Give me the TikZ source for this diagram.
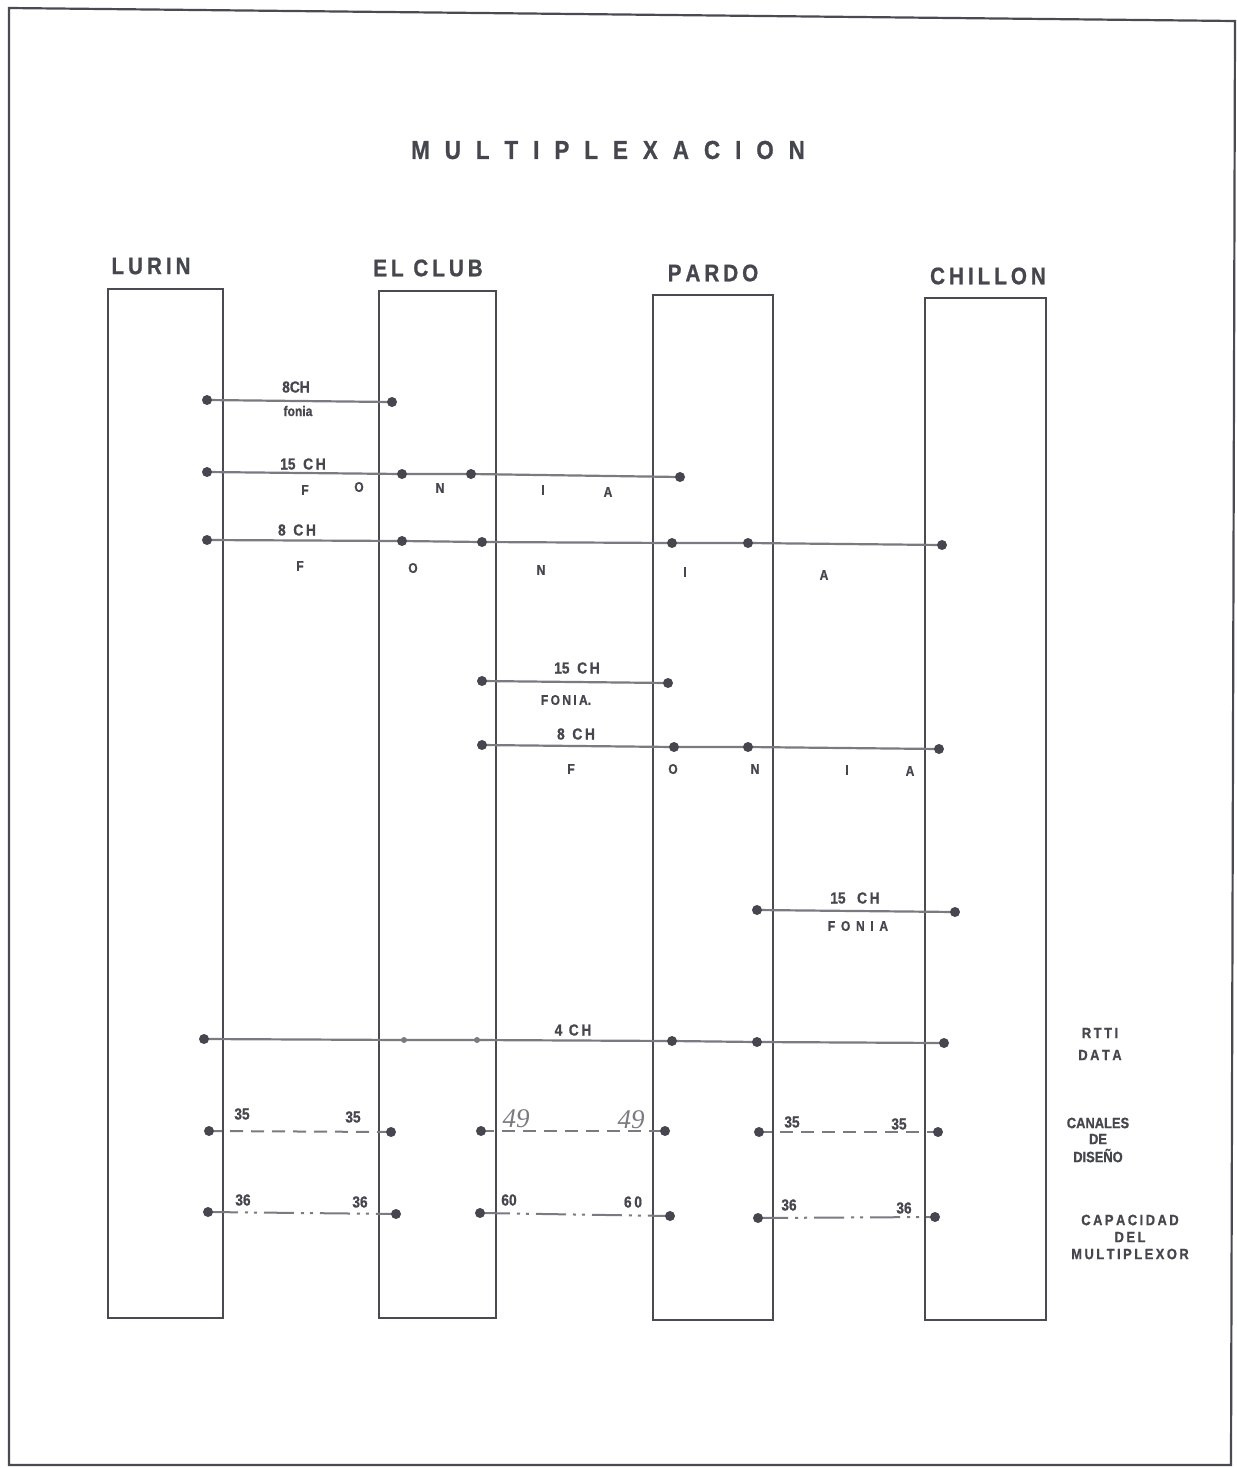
\documentclass[tikz,border=0pt]{standalone}
\usepackage{fontspec}
\setmainfont{Liberation Sans}[FakeStretch=0.86,BoldFeatures={FakeBold=0.8}]
\newfontfamily\handfont{Liberation Serif}
\definecolor{ink}{HTML}{46464E}
\definecolor{linec}{HTML}{7A7A80}
\definecolor{boxc}{HTML}{4A4A52}
\begin{document}
\begin{tikzpicture}[x=1pt,y=-1pt,
  frame/.style={draw=boxc,line width=2.2pt},
  col/.style={draw=boxc,line width=2.8pt,rectangle,inner sep=0pt},
  conn/.style={draw=linec,line width=2.2pt},
  dsh/.style={draw=linec,line width=2pt,dash pattern=on 13pt off 8pt},
  ddot/.style={draw=linec,line width=2pt,dash pattern=on 30pt off 7pt on 3pt off 6pt on 3pt off 7pt},
  dot/.style={circle,fill=ink,inner sep=0pt,minimum size=10pt},
  sdot/.style={circle,fill=linec,inner sep=0pt,minimum size=6pt},
  title/.style={text=ink,font=\bfseries\fontsize{26}{28}\selectfont,inner sep=0pt},
  head/.style={text=ink,font=\bfseries\fontsize{24}{27}\selectfont,inner sep=0pt},
  lbl/.style={text=ink,font=\bfseries\fontsize{16}{18}\selectfont,inner sep=0pt},
  small/.style={text=ink,font=\bfseries\fontsize{14}{16}\selectfont,inner sep=0pt},
  side/.style={text=ink,font=\bfseries\fontsize{15}{20}\selectfont,inner sep=0pt,align=center},
  hand/.style={text=linec,font=\handfont\itshape\fontsize{27}{30}\selectfont,inner sep=0pt}]
\useasboundingbox (0,0) rectangle (1237,1468);
\fill[white] (0,0) rectangle (1237,1468);
% frame
\draw[frame] (9,8) -- (1235,21) -- (1231,1465) -- (9,1465) -- cycle;
% title
\node[title] (ttl) at (608,150) {M\hspace{15pt}U\hspace{15pt}L\hspace{15pt}T\hspace{15pt}I\hspace{15pt}P\hspace{15pt}L\hspace{15pt}E\hspace{15pt}X\hspace{15pt}A\hspace{15pt}C\hspace{15pt}I\hspace{15pt}O\hspace{15pt}N};
% columns
\node[col,minimum width=115pt,minimum height=1029pt] (lurin) at (165.5,803.5) {};
\node[col,minimum width=117pt,minimum height=1027pt] (club) at (437.5,804.5) {};
\node[col,minimum width=120pt,minimum height=1025pt] (pardo) at (713,807.5) {};
\node[col,minimum width=121pt,minimum height=1022pt] (chillon) at (985.5,809) {};
\node[head] (hlurin) at (151,266) {L\,U\,R\,I\,N};
\node[head] (hclub) at (428,268) {E\,L\ \,C\,L\,U\,B};
\node[head] (hpardo) at (713,273) {P\,A\,R\,D\,O};
\node[head] (hchillon) at (988,276) {C\,H\,I\,L\,L\,O\,N};

% coordinates of connector points
\coordinate (a1) at (207,400); \coordinate (a2) at (392,402);
\coordinate (b1) at (207,472); \coordinate (b2) at (402,474); \coordinate (b3) at (471,474); \coordinate (b4) at (680,477);
\coordinate (c1) at (207,540); \coordinate (c2) at (402,541); \coordinate (c3) at (482,542); \coordinate (c4) at (672,543); \coordinate (c5) at (748,543); \coordinate (c6) at (942,545);
\coordinate (d1) at (482,681); \coordinate (d2) at (668,683);
\coordinate (e1) at (482,745); \coordinate (e2) at (674,747); \coordinate (e3) at (748,747); \coordinate (e4) at (939,749);
\coordinate (f1) at (757,910); \coordinate (f2) at (955,912);
\coordinate (g1) at (204,1039); \coordinate (g2) at (404,1040); \coordinate (g3) at (477,1040); \coordinate (g4) at (672,1041); \coordinate (g5) at (757,1042); \coordinate (g6) at (944,1043);
\coordinate (h1) at (209,1131); \coordinate (h2) at (391,1132);
\coordinate (h3) at (481,1131); \coordinate (h4) at (665,1131);
\coordinate (h5) at (759,1132); \coordinate (h6) at (938,1132);
\coordinate (k1) at (208,1212); \coordinate (k2) at (396,1214);
\coordinate (k3) at (480,1213); \coordinate (k4) at (670,1216);
\coordinate (k5) at (758,1218); \coordinate (k6) at (935,1217);

% connectors
\draw[conn] (a1) -- (a2);
\draw[conn] (b1) -- (b2) -- (b3) -- (b4);
\draw[conn] (c1) -- (c2) -- (c3) -- (c4) -- (c5) -- (c6);
\draw[conn] (d1) -- (d2);
\draw[conn] (e1) -- (e2) -- (e3) -- (e4);
\draw[conn] (f1) -- (f2);
\draw[conn] (g1) -- (g2) -- (g3) -- (g4) -- (g5) -- (g6);
\draw[dsh] (h1) -- (h2);
\draw[dsh] (h3) -- (h4);
\draw[dsh] (h5) -- (h6);
\draw[ddot] (k1) -- (k2);
\draw[ddot] (k3) -- (k4);
\draw[ddot] (k5) -- (k6);

% dots
\foreach \p in {a1,a2,b1,b2,b3,b4,c1,c2,c3,c4,c5,c6,d1,d2,e1,e2,e3,e4,f1,f2,g1,g4,g5,g6,h1,h2,h3,h4,h5,h6,k1,k2,k3,k4,k5,k6}
  \node[dot] at (\p) {};
\foreach \p in {g2,g3}
  \node[sdot] at (\p) {};

% labels row 1
\node[lbl] (l1a) at (296,387) {8CH};
\node[small] (l1b) at (298,411) {fonia};
% row 2
\node[lbl] (l2a) at (303,464) {15\ \ C\,H};
\node[small] (l2f) at (305,490) {F};
\node[small] (l2o) at (359,487) {O};
\node[small] (l2n) at (440,488) {N};
\node[small] (l2i) at (543,490) {I};
\node[small] (l2x) at (608,492) {A};
% row 3
\node[lbl] (l3a) at (297,530) {8\ \ C\,H};
\node[small] (l3f) at (300,566) {F};
\node[small] (l3o) at (413,568) {O};
\node[small] (l3n) at (541,570) {N};
\node[small] (l3i) at (685,572) {I};
\node[small] (l3x) at (824,575) {A};
% row 4
\node[lbl] (l4a) at (577,668) {15\ \ C\,H};
\node[small] (l4b) at (566,700) {F\,O\,N\,I\,A.};
% row 5
\node[lbl] (l5a) at (576,734) {8\ \ C\,H};
\node[small] (l5f) at (571,769) {F};
\node[small] (l5o) at (673,769) {O};
\node[small] (l5n) at (755,769) {N};
\node[small] (l5i) at (847,770) {I};
\node[small] (l5x) at (910,771) {A};
% row 6
\node[lbl] (l6a) at (855,898) {15\ \ \ C\,H};
\node[small] (l6b) at (858,926) {F\ \,O\ \,N\ \,I\ \,A};
% row 7
\node[lbl] (l7a) at (573,1030) {4\ \,C\,H};
% row 8
\node[lbl] (n8a) at (242,1114) {35};
\node[lbl] (n8b) at (353,1117) {35};
\node[hand] (n8c) at (516,1119) {49};
\node[hand] (n8d) at (631,1120) {49};
\node[lbl] (n8e) at (792,1122) {35};
\node[lbl] (n8f) at (899,1124) {35};
% row 9
\node[lbl] (n9a) at (243,1200) {36};
\node[lbl] (n9b) at (360,1202) {36};
\node[lbl] (n9c) at (509,1200) {60};
\node[lbl] (n9d) at (633,1202) {6\,0};
\node[lbl] (n9e) at (789,1205) {36};
\node[lbl] (n9f) at (904,1208) {36};

% side legends
\node[side] (s1) at (1100,1044) {R\,T\,T\,I\\[2pt] D\,A\,T\,A};
\node[side] (s2) at (1098,1140) {CANALES\\[-4pt] DE\\[-2pt] DISEÑO};
\node[side] (s3) at (1130,1237) {C\,A\,P\,A\,C\,I\,D\,A\,D\\[-3pt] D\,E\,L\\[-3pt] M\,U\,L\,T\,I\,P\,L\,E\,X\,O\,R};
\end{tikzpicture}
\end{document}
